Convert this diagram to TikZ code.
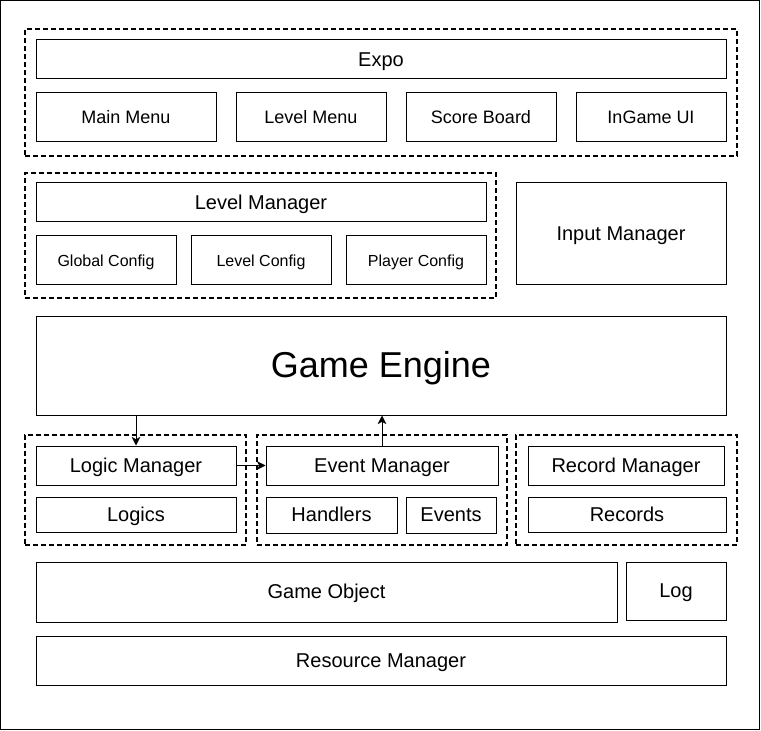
\documentclass[tikz,border=0pt]{standalone}
\usepackage{fontspec}
\setmainfont{Liberation Sans}
\usetikzlibrary{fit,arrows.meta}
\tikzset{
  shp/.style={draw, line width=0.75pt, inner sep=0pt},
  bx/.style={shp, label={[inner sep=0pt, text height=13.5pt, text depth=3.1pt, font=\fontsize{15pt}{18pt}\selectfont]center:#1}},
  menu/.style={shp, label={[inner sep=0pt, text height=12.15pt, text depth=2.8pt, font=\fontsize{13.5pt}{16pt}\selectfont]center:#1}},
  cfg/.style={shp, label={[inner sep=0pt, text height=10.8pt, text depth=2.48pt, font=\fontsize{12pt}{14pt}\selectfont]center:#1}},
  big/.style={shp, label={[inner sep=0pt, text height=24.3pt, text depth=5.59pt, font=\fontsize{27pt}{32pt}\selectfont]center:#1}},
  grp/.style={draw, line width=1.5pt, dash pattern=on 3.75pt off 2.25pt, inner sep=0pt},
  frame/.style={draw, line width=0.75pt, inner sep=0pt},
  arr/.style={line width=0.75pt, -{Stealth[length=6.5pt,width=6.5pt,inset=1.8pt]}}
}
\begin{document}
\begin{tikzpicture}[x=0.75pt,y=-0.75pt]
\useasboundingbox (0,0) rectangle (761,731);
\node[frame, fit={(0.5,0.5) (759.5,729.5)}] (outer) {};
% Expo group
\node[grp, fit={(25,29) (737,156)}] (gExpo) {};
\node[bx=Expo, fit={(36,40) (726,79)}] (expo) {};
\node[menu=Main Menu, fit={(36,93) (216,142)}] (mainmenu) {};
\node[menu=Level Menu, fit={(236,93) (386,142)}] (levelmenu) {};
\node[menu=Score Board, fit={(406,93) (556,142)}] (scoreboard) {};
\node[menu=InGame UI, fit={(576,93) (726,142)}] (ingameui) {};
% Level manager group
\node[grp, fit={(25,173) (496,298)}] (gLevel) {};
\node[bx=Level Manager, fit={(36,183) (486,222)}] (levelmgr) {};
\node[cfg=Global Config, fit={(36,236) (176,285)}] (globalcfg) {};
\node[cfg=Level Config, fit={(191,236) (331,285)}] (levelcfg) {};
\node[cfg=Player Config, fit={(346,236) (486,285)}] (playercfg) {};
\node[bx=Input Manager, fit={(516,183) (726,285)}] (inputmgr) {};
% Game engine
\node[big=Game Engine, fit={(36,316) (726,415)}] (engine) {};
% Logic group
\node[grp, fit={(25,435) (246,545)}] (gLogic) {};
\node[bx=Logic Manager, fit={(36,446) (236,485)}] (logicmgr) {};
\node[bx=Logics, fit={(36,497) (236,532)}] (logics) {};
% Event group
\node[grp, fit={(257,435) (507,545)}] (gEvent) {};
\node[bx=Event Manager, fit={(266,446) (498,485)}] (eventmgr) {};
\node[bx=Handlers, fit={(266,497) (397,533)}] (handlers) {};
\node[bx=Events, fit={(406,497) (496,533)}] (events) {};
% Record group
\node[grp, fit={(516,435) (737,545)}] (gRecord) {};
\node[bx=Record Manager, fit={(528,446) (724,485)}] (recordmgr) {};
\node[bx=Records, fit={(528,497) (726,532)}] (records) {};
% Bottom
\node[bx=Game Object, fit={(36,562) (617,622)}] (gameobj) {};
\node[bx=Log, fit={(626,562) (726,620)}] (log) {};
\node[bx=Resource Manager, fit={(36,636) (726,685)}] (resmgr) {};
% Arrows
\draw[arr] (engine.south -| logicmgr.north) -- (logicmgr.north);
\draw[arr] (eventmgr.north) -- (eventmgr.north |- engine.south);
\draw[arr] (logicmgr.east) -- (eventmgr.west);
\end{tikzpicture}
\end{document}
